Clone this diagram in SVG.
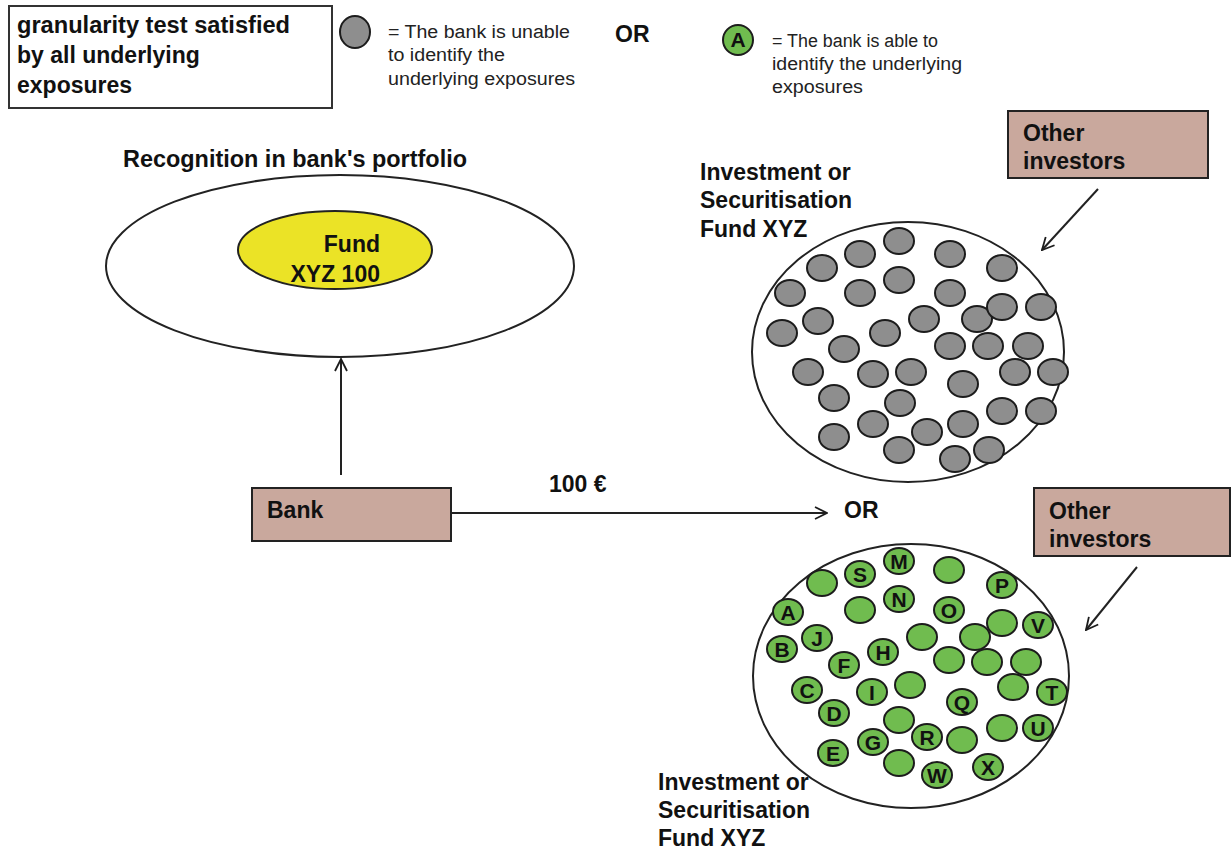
<svg xmlns="http://www.w3.org/2000/svg" width="1232" height="852" viewBox="0 0 1232 852">
<defs>
<marker id="chev" viewBox="0 0 14 14" refX="13" refY="7" markerWidth="14" markerHeight="14" markerUnits="userSpaceOnUse" orient="auto"><path d="M1,1 L13,7 L1,13" fill="none" stroke="#1c1c1c" stroke-width="1.8"/></marker>
</defs>
<style>
.b{font-family:"Liberation Sans",Arial,sans-serif;font-weight:bold;font-size:23px;fill:#111}
.r{font-family:"Liberation Sans",Arial,sans-serif;font-size:18px;fill:#222}
.g{fill:#8e8e8e;stroke:#1c1c1c;stroke-width:2}
.gr{fill:#70bc4f;stroke:#1c1c1c;stroke-width:2}
.l{font-family:"Liberation Sans",Arial,sans-serif;font-weight:bold;font-size:21px;fill:#111;text-anchor:middle}
.box{fill:#c9a89d;stroke:#222;stroke-width:2}
.ln{stroke:#222;stroke-width:2;fill:none}
</style>
<rect width="1232" height="852" fill="#fff"/>

<g id="legend-box">
<rect x="9" y="6" width="323" height="102" fill="#fff" stroke="#333" stroke-width="2"/>
<text class="b" x="17" y="33" textLength="273" lengthAdjust="spacingAndGlyphs">granularity test satisfied</text>
<text class="b" x="17" y="63">by all underlying</text>
<text class="b" x="17" y="93">exposures</text>
</g>

<g id="legend-gray">
<ellipse class="g" cx="355" cy="32" rx="15" ry="16"/>
<text class="r" x="388" y="38" textLength="182" lengthAdjust="spacingAndGlyphs">= The bank is unable</text>
<text class="r" x="388" y="61" textLength="117" lengthAdjust="spacingAndGlyphs">to identify the</text>
<text class="r" x="388" y="85" textLength="187" lengthAdjust="spacingAndGlyphs">underlying exposures</text>
</g>

<text class="b" x="615" y="42">OR</text>

<g id="legend-green">
<ellipse class="gr" cx="738" cy="40" rx="15" ry="15"/>
<text class="l" x="738" y="47">A</text>
<text class="r" x="772" y="47" textLength="166" lengthAdjust="spacingAndGlyphs">= The bank is able to</text>
<text class="r" x="772" y="70" textLength="190" lengthAdjust="spacingAndGlyphs">identify the underlying</text>
<text class="r" x="772" y="93" textLength="91" lengthAdjust="spacingAndGlyphs">exposures</text>
</g>

<g id="portfolio">
<text class="b" x="123" y="167" textLength="344" lengthAdjust="spacingAndGlyphs">Recognition  in bank's portfolio</text>
<ellipse cx="340" cy="266" rx="234" ry="91" fill="#fff" stroke="#222" stroke-width="2"/>
<ellipse cx="335" cy="250" rx="97" ry="39" fill="#ebe326" stroke="#222" stroke-width="2"/>
<text class="b" x="380" y="252" text-anchor="end">Fund</text>
<text class="b" x="380" y="282" text-anchor="end">XYZ 100</text>
</g>

<g id="bank">
<rect class="box" x="252" y="488" width="199" height="53"/>
<text class="b" x="267" y="518">Bank</text>
</g>

<g id="connectors">
<line class="ln" x1="341" y1="475" x2="341" y2="359" marker-end="url(#chev)"/>
<line class="ln" x1="451" y1="513" x2="827" y2="513" marker-end="url(#chev)"/>
<line class="ln" x1="1098" y1="189" x2="1042" y2="250" marker-end="url(#chev)"/>
<line class="ln" x1="1137" y1="567" x2="1086" y2="630" marker-end="url(#chev)"/>
</g>

<text class="b" x="549" y="492">100 €</text>
<text class="b" x="844" y="518">OR</text>

<g id="other-investors-1">
<rect class="box" x="1008" y="111" width="200" height="67"/>
<text class="b" x="1023" y="141">Other</text>
<text class="b" x="1023" y="169">investors</text>
</g>

<g id="other-investors-2">
<rect class="box" x="1034" y="488" width="196" height="68"/>
<text class="b" x="1049" y="519">Other</text>
<text class="b" x="1049" y="547">investors</text>
</g>

<g id="fund-gray">
<text class="b" x="700" y="180">Investment or</text>
<text class="b" x="700" y="208">Securitisation</text>
<text class="b" x="700" y="237">Fund XYZ</text>
<ellipse cx="908" cy="352" rx="156" ry="130" fill="#fff" stroke="#222" stroke-width="2"/>
<ellipse class="g" cx="899" cy="241" rx="15" ry="13"/>
<ellipse class="g" cx="860" cy="254" rx="15" ry="13"/>
<ellipse class="g" cx="822" cy="268" rx="15" ry="13"/>
<ellipse class="g" cx="950" cy="254" rx="15" ry="13"/>
<ellipse class="g" cx="1002" cy="268" rx="15" ry="13"/>
<ellipse class="g" cx="899" cy="280" rx="15" ry="13"/>
<ellipse class="g" cx="790" cy="293" rx="15" ry="13"/>
<ellipse class="g" cx="860" cy="293" rx="15" ry="13"/>
<ellipse class="g" cx="950" cy="293" rx="15" ry="13"/>
<ellipse class="g" cx="977" cy="319" rx="15" ry="13"/>
<ellipse class="g" cx="1002" cy="307" rx="15" ry="13"/>
<ellipse class="g" cx="1041" cy="307" rx="15" ry="13"/>
<ellipse class="g" cx="818" cy="321" rx="15" ry="13"/>
<ellipse class="g" cx="924" cy="319" rx="15" ry="13"/>
<ellipse class="g" cx="782" cy="333" rx="15" ry="13"/>
<ellipse class="g" cx="885" cy="333" rx="15" ry="13"/>
<ellipse class="g" cx="844" cy="349" rx="15" ry="13"/>
<ellipse class="g" cx="950" cy="346" rx="15" ry="13"/>
<ellipse class="g" cx="988" cy="346" rx="15" ry="13"/>
<ellipse class="g" cx="1028" cy="346" rx="15" ry="13"/>
<ellipse class="g" cx="808" cy="372" rx="15" ry="13"/>
<ellipse class="g" cx="873" cy="374" rx="15" ry="13"/>
<ellipse class="g" cx="911" cy="372" rx="15" ry="13"/>
<ellipse class="g" cx="1015" cy="372" rx="15" ry="13"/>
<ellipse class="g" cx="1053" cy="372" rx="15" ry="13"/>
<ellipse class="g" cx="963" cy="384" rx="15" ry="13"/>
<ellipse class="g" cx="834" cy="398" rx="15" ry="13"/>
<ellipse class="g" cx="900" cy="403" rx="15" ry="13"/>
<ellipse class="g" cx="1002" cy="411" rx="15" ry="13"/>
<ellipse class="g" cx="1041" cy="411" rx="15" ry="13"/>
<ellipse class="g" cx="873" cy="424" rx="15" ry="13"/>
<ellipse class="g" cx="927" cy="432" rx="15" ry="13"/>
<ellipse class="g" cx="963" cy="424" rx="15" ry="13"/>
<ellipse class="g" cx="834" cy="437" rx="15" ry="13"/>
<ellipse class="g" cx="899" cy="450" rx="15" ry="13"/>
<ellipse class="g" cx="955" cy="459" rx="15" ry="13"/>
<ellipse class="g" cx="989" cy="450" rx="15" ry="13"/>
</g>

<g id="fund-green">
<ellipse cx="911" cy="676" rx="158" ry="132" fill="#fff" stroke="#222" stroke-width="2"/>
<ellipse class="gr" cx="899" cy="561" rx="15" ry="13"/><text class="l" x="899" y="569">M</text>
<ellipse class="gr" cx="860" cy="574" rx="15" ry="13"/><text class="l" x="860" y="582">S</text>
<ellipse class="gr" cx="822" cy="583" rx="15" ry="13"/>
<ellipse class="gr" cx="949" cy="570" rx="15" ry="13"/>
<ellipse class="gr" cx="1002" cy="585" rx="15" ry="13"/><text class="l" x="1002" y="593">P</text>
<ellipse class="gr" cx="899" cy="599" rx="15" ry="13"/><text class="l" x="899" y="607">N</text>
<ellipse class="gr" cx="860" cy="610" rx="15" ry="13"/>
<ellipse class="gr" cx="788" cy="612" rx="15" ry="13"/><text class="l" x="788" y="620">A</text>
<ellipse class="gr" cx="949" cy="610" rx="15" ry="13"/><text class="l" x="949" y="618">O</text>
<ellipse class="gr" cx="975" cy="637" rx="15" ry="13"/>
<ellipse class="gr" cx="1002" cy="623" rx="15" ry="13"/>
<ellipse class="gr" cx="1038" cy="625" rx="15" ry="13"/><text class="l" x="1038" y="633">V</text>
<ellipse class="gr" cx="817" cy="638" rx="15" ry="13"/><text class="l" x="817" y="646">J</text>
<ellipse class="gr" cx="922" cy="637" rx="15" ry="13"/>
<ellipse class="gr" cx="782" cy="649" rx="15" ry="13"/><text class="l" x="782" y="657">B</text>
<ellipse class="gr" cx="883" cy="652" rx="15" ry="13"/><text class="l" x="883" y="660">H</text>
<ellipse class="gr" cx="844" cy="665" rx="15" ry="13"/><text class="l" x="844" y="673">F</text>
<ellipse class="gr" cx="949" cy="660" rx="15" ry="13"/>
<ellipse class="gr" cx="987" cy="662" rx="15" ry="13"/>
<ellipse class="gr" cx="1026" cy="662" rx="15" ry="13"/>
<ellipse class="gr" cx="807" cy="690" rx="15" ry="13"/><text class="l" x="807" y="698">C</text>
<ellipse class="gr" cx="872" cy="692" rx="15" ry="13"/><text class="l" x="872" y="700">I</text>
<ellipse class="gr" cx="910" cy="685" rx="15" ry="13"/>
<ellipse class="gr" cx="1013" cy="687" rx="15" ry="13"/>
<ellipse class="gr" cx="1052" cy="692" rx="15" ry="13"/><text class="l" x="1052" y="700">T</text>
<ellipse class="gr" cx="962" cy="702" rx="15" ry="13"/><text class="l" x="962" y="710">Q</text>
<ellipse class="gr" cx="834" cy="713" rx="15" ry="13"/><text class="l" x="834" y="721">D</text>
<ellipse class="gr" cx="899" cy="720" rx="15" ry="13"/>
<ellipse class="gr" cx="1002" cy="728" rx="15" ry="13"/>
<ellipse class="gr" cx="1038" cy="728" rx="15" ry="13"/><text class="l" x="1038" y="736">U</text>
<ellipse class="gr" cx="873" cy="742" rx="15" ry="13"/><text class="l" x="873" y="750">G</text>
<ellipse class="gr" cx="962" cy="740" rx="15" ry="13"/>
<ellipse class="gr" cx="927" cy="737" rx="15" ry="13"/><text class="l" x="927" y="745">R</text>
<ellipse class="gr" cx="833" cy="753" rx="15" ry="13"/><text class="l" x="833" y="761">E</text>
<ellipse class="gr" cx="899" cy="763" rx="15" ry="13"/>
<ellipse class="gr" cx="937" cy="775" rx="15" ry="13"/><text class="l" x="937" y="783">W</text>
<ellipse class="gr" cx="988" cy="767" rx="15" ry="13"/><text class="l" x="988" y="775">X</text>
<text class="b" x="658" y="790">Investment or</text>
<text class="b" x="658" y="818">Securitisation</text>
<text class="b" x="658" y="846">Fund XYZ</text>
</g>
</svg>
